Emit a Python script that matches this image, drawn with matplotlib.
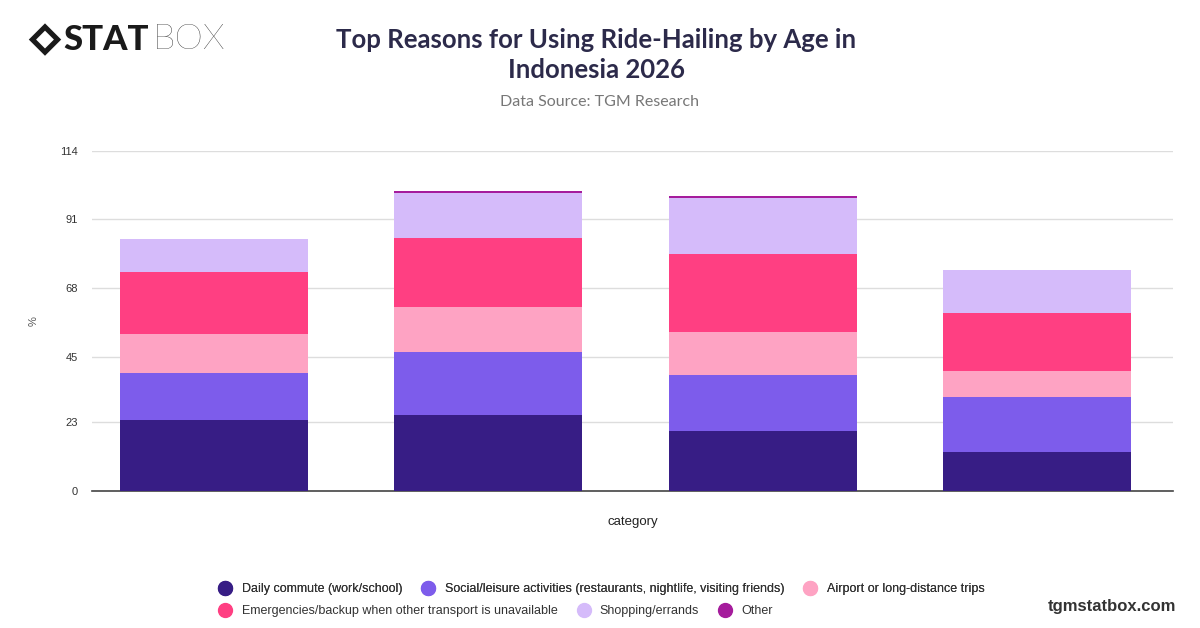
import matplotlib
matplotlib.use('Agg')
import matplotlib.pyplot as plt
from matplotlib.lines import Line2D
from matplotlib.patches import Polygon
import numpy as np

plt.rcParams['font.family'] = ['Liberation Sans', 'DejaVu Sans']

# data (one value per age group, bottom to top)
categories = ['', '', '', '']
series_names = [
    'Daily commute (work/school)',
    'Social/leisure activities (restaurants, nightlife, visiting friends)',
    'Airport or long-distance trips',
    'Emergencies/backup when other transport is unavailable',
    'Shopping/errands',
    'Other',
]
commute = [23.7, 25.5, 20.1, 13.2]
social = [15.9, 21.1, 18.7, 18.3]
airport = [13.0, 15.2, 14.6, 8.8]
emergency = [20.9, 23.0, 26.0, 19.5]
shopping = [10.9, 15.1, 18.7, 14.1]
other = [0.0, 0.5, 0.9, 0.0]
y_ticks = [0, 23, 45, 68, 91, 114]

colors = ['#371d85', '#7d5ceb', '#fea3c3', '#ff3f82', '#d5bbfa', '#a51c9c']

fig = plt.figure(figsize=(12, 6.28), dpi=100)
ax = fig.add_axes([0.0767, 0.218, 0.9008, 0.542])

x = np.arange(len(categories))
bottom = np.zeros(len(categories))
for name, vals, col in zip(series_names, [commute, social, airport, emergency, shopping, other], colors):
    ax.bar(x, vals, 0.686, bottom=bottom, color=col, label=name, zorder=3)
    bottom += np.array(vals)

ax.set_ylim(0, 114)
ax.set_xlim(-0.445, 3.496)
ax.set_yticks(y_ticks)
ax.set_yticklabels([str(t) for t in y_ticks], fontsize=8, color='#333333')
ax.set_xticks(x)
ax.set_xticklabels(categories)
ax.tick_params(length=0, pad=10)
ax.grid(axis='y', color='#dddddd', linewidth=1, zorder=0)
for s in ['top', 'right', 'left']:
    ax.spines[s].set_visible(False)
ax.spines['bottom'].set_color('#444444')
ax.spines['bottom'].set_linewidth(1.2)
ax.set_ylabel('%', fontsize=8, color='#555555', labelpad=16)
ax.set_xlabel('category', fontsize=9.5, color='#222222', labelpad=8)

# title block
fig.text(0.497, 0.912, 'Top Reasons for Using Ride-Hailing by Age in\nIndonesia 2026',
         ha='center', va='center', fontsize=18.5, fontweight='bold', color='#2c2a4a',
         family=['Lato', 'DejaVu Sans'], linespacing=1.28)
fig.text(0.5, 0.838, 'Data Source: TGM Research', ha='center', va='center',
         fontsize=11.5, color='#777777', family=['Lato', 'DejaVu Sans'])

# logo
cx, cy, r = 0.0375, 0.937, 0.0135
ry = r * 1200 / 628
fig.patches.append(Polygon([[cx - r, cy], [cx, cy + ry], [cx + r, cy], [cx, cy - ry]],
                           closed=True, transform=fig.transFigure, facecolor='#1a1a1a'))
fig.patches.append(Polygon([[cx - r * 0.55, cy], [cx, cy + ry * 0.55], [cx + r * 0.55, cy], [cx, cy - ry * 0.55]],
                           closed=True, transform=fig.transFigure, facecolor='white'))
fig.text(0.053, 0.937, 'STAT', ha='left', va='center', fontsize=25, fontweight='black',
         color='#1a1a1a', family=['Lato', 'DejaVu Sans'])
fig.text(0.127, 0.937, 'BOX', ha='left', va='center', fontsize=26, fontweight='light',
         color='#1a1a1a', family=['Lato', 'DejaVu Sans'])

# legend: two left-aligned rows
handles = [Line2D([], [], marker='o', linestyle='', markersize=10, color=c) for c in colors]
leg1 = fig.legend(handles[:3], series_names[:3], loc='center left', bbox_to_anchor=(0.168, 0.062),
                  ncol=3, frameon=False, fontsize=9, handletextpad=0.3, columnspacing=1.1,
                  labelcolor='#333333')
fig.add_artist(leg1)
fig.legend(handles[3:], series_names[3:], loc='center left', bbox_to_anchor=(0.168, 0.027),
           ncol=3, frameon=False, fontsize=9, handletextpad=0.3, columnspacing=1.1,
           labelcolor='#333333')

fig.text(0.98, 0.035, 'tgmstatbox.com', ha='right', va='center', fontsize=12,
         fontweight='bold', color='#333333')

fig.savefig('out.png', dpi=100)
